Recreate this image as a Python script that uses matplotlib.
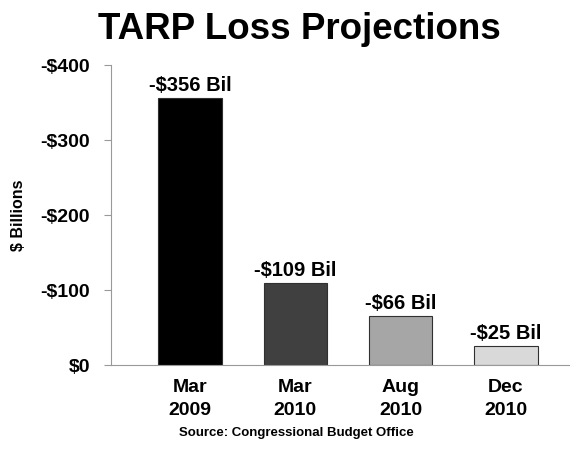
import matplotlib
matplotlib.use('Agg')
import matplotlib.pyplot as plt

plt.rcParams['font.family'] = ['Liberation Sans', 'DejaVu Sans']
plt.rcParams['font.weight'] = 'bold'

cats = ['Mar\n2009', 'Mar\n2010', 'Aug\n2010', 'Dec\n2010']
vals = [356, 109, 66, 25]
labels = ['-$356 Bil', '-$109 Bil', '-$66 Bil', '-$25 Bil']
colors = ['#000000', '#404040', '#a6a6a6', '#d9d9d9']
yticks = [0, 100, 200, 300, 400]
yticklabels = ['$0', '-$100', '-$200', '-$300', '-$400']

fig = plt.figure(figsize=(5.75, 4.49), dpi=100)
ax = fig.add_axes([0.193, 0.187, 0.797, 0.668])
x = range(len(vals))
ax.bar(x, vals, width=0.6, color=colors, edgecolor='#303030', linewidth=0.8)
for i, v in enumerate(vals):
    ax.text(i, v + 4, labels[i], ha='center', va='bottom', fontsize=14.5, fontweight='bold')

ax.set_xlim(-0.75, 3.6)
ax.set_ylim(0, 400)
ax.set_yticks(yticks)
ax.set_yticklabels(yticklabels, fontsize=14, fontweight='bold')
ax.set_xticks(list(x))
ax.set_xticklabels(cats, fontsize=14, fontweight='bold', linespacing=1.45)
ax.tick_params(axis='x', length=0, pad=10)
ax.tick_params(axis='y', length=5, color='#999999', pad=10)
for s in ['top', 'right']:
    ax.spines[s].set_visible(False)
for s in ['left', 'bottom']:
    ax.spines[s].set_color('#999999')
ax.set_ylabel('$ Billions', fontsize=11.5, fontweight='bold')
ax.yaxis.set_label_coords(-0.185, 0.5)

fig.text(0.52, 0.935, 'TARP Loss Projections', ha='center', va='center', fontsize=26.5, fontweight='bold')
fig.text(0.515, 0.035, 'Source: Congressional Budget Office', ha='center', va='center', fontsize=9.5, fontweight='bold')

fig.savefig('out.png', dpi=100)
